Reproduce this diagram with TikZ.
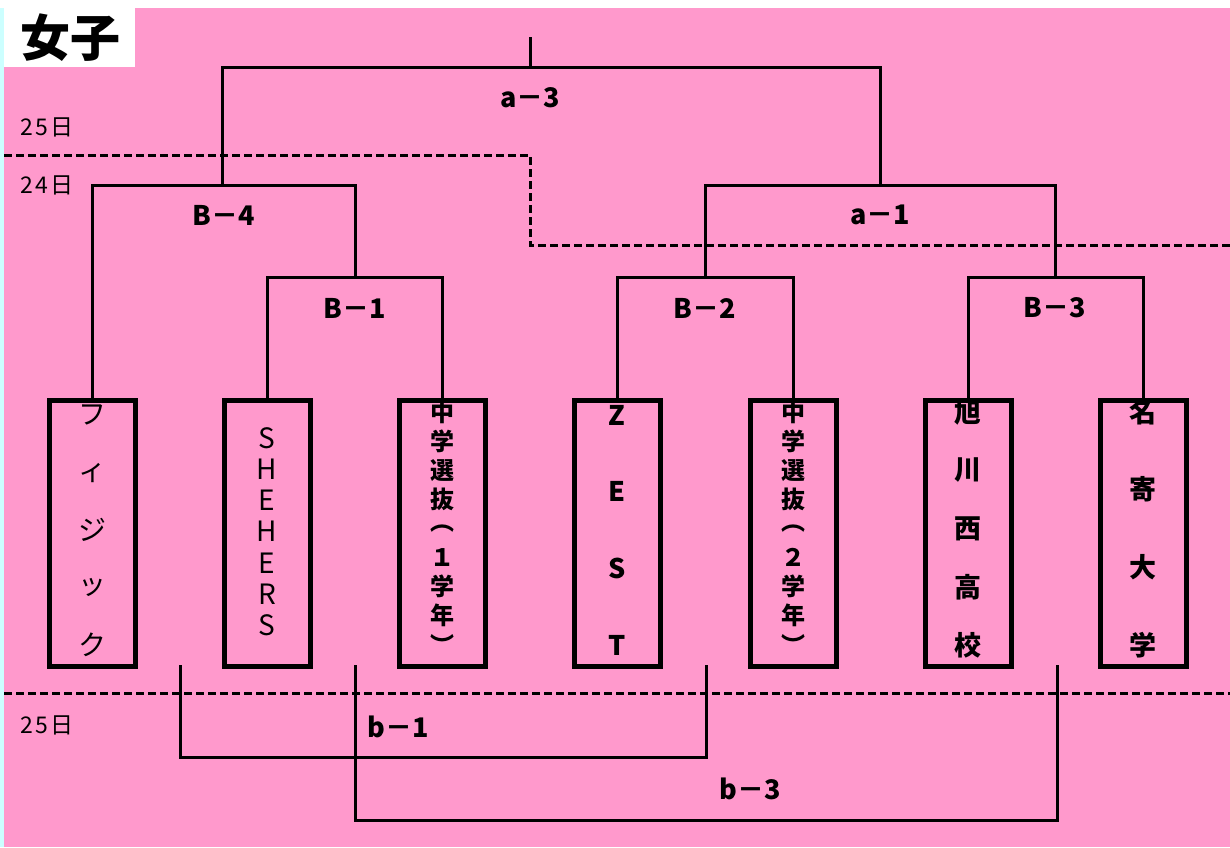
\documentclass[tikz,border=0pt]{standalone}
\usepackage{fontspec}
\setmainfont{Noto Sans CJK JP}
\usetikzlibrary{positioning}
\definecolor{bgpink}{HTML}{FF99CC}
\definecolor{edgecyan}{HTML}{CCFFFF}

\begin{document}
\begin{tikzpicture}[x=1pt, y=-1pt, line width=3pt,
        team box/.style={draw,line width=5pt,minimum width=86pt,minimum height=266pt,inner sep=0pt,anchor=north},
        match label/.style={font=\fontsize{27}{27}\selectfont\bfseries},
        day label/.style={font=\fontsize{23}{23}\selectfont,anchor=west},
        day line/.style={dash pattern=on 8pt off 4pt},
        team char/.style={font=\fontsize{27}{27}\selectfont\bfseries,inner sep=0pt},
        small char/.style={font=\fontsize{24}{24}\selectfont\bfseries,inner sep=0pt},
        light char/.style={font=\fontsize{28}{28}\selectfont,inner sep=0pt}]
    % background
    \useasboundingbox (0,0) rectangle (1230,847);
    \fill[edgecyan] (0,0) rectangle (1230,847);
    \fill[white] (0,0) rectangle (1230,8);
    \fill[bgpink] (4,8) rectangle (1230,847);
    \fill[white] (4,8) rectangle (135,67);
    \node[font=\fontsize{50}{50}\selectfont\bfseries] (title) at (70,38) {女子};

    % days
    \draw[day line] (4,155) -- (530,155) -- (530,245) -- (1230,245);
    \draw[day line] (4,693) -- (1230,693);
    \node[day label] (d1) at (16,127) {2\hspace{2pt}5\hspace{2pt}日};
    \node[day label] (d2) at (16,185) {2\hspace{2pt}4\hspace{2pt}日};
    \node[day label] (d3) at (16,725) {2\hspace{2pt}5\hspace{2pt}日};

    % teams
    \node[team box] (t1) at (92,398) {};
    \node[team box] (t2) at (267,398) {};
    \node[team box] (t3) at (442,398) {};
    \node[team box] (t4) at (617,398) {};
    \node[team box] (t5) at (793,398) {};
    \node[team box] (t6) at (968,398) {};
    \node[team box] (t7) at (1143,398) {};

    \foreach \c [count=\i] in {フ,ィ,ジ,ッ,ク}
        \node[light char] (t1-\i) at (92,{415+(\i-1)*57.5}) {\c};
    \foreach \c [count=\i] in {S,H,E,H,E,R,S}
        \node[light char] (t2-\i) at (267,{438+(\i-1)*31.2}) {\c};
    \foreach \c [count=\i] in {中,学,選,抜,︵,１,学,年,︶}
        \node[small char] (t3-\i) at (442,{412+(\i-1)*29.1}) {\c};
    \foreach \c [count=\i] in {Z,E,S,T}
        \node[team char] (t4-\i) at (617,{415+(\i-1)*76.7}) {\c};
    \foreach \c [count=\i] in {中,学,選,抜,︵,２,学,年,︶}
        \node[small char] (t5-\i) at (793,{412+(\i-1)*29.1}) {\c};
    \foreach \c [count=\i] in {旭,川,西,高,校}
        \node[team char] (t6-\i) at (968,{412+(\i-1)*58.25}) {\c};
    \foreach \c [count=\i] in {名,寄,大,学}
        \node[team char] (t7-\i) at (1143,{412+(\i-1)*77.7}) {\c};

    % bracket points
    \coordinate (B1) at (355,277);
    \coordinate (B2) at (705,277);
    \coordinate (B3) at (1055,277);
    \coordinate (B4) at (222,185);
    \coordinate (a1) at (880,185);
    \coordinate (a3) at (530,67);
    \coordinate (final) at (530,37);

    \draw (t2.north) |- (B1) -| (t3.north);
    \draw (t4.north) |- (B2) -| (t5.north);
    \draw (t6.north) |- (B3) -| (t7.north);
    \draw (t1.north) |- (B4) -| (B1);
    \draw (B2) |- (a1) -| (B3);
    \draw (B4) |- (a3) -| (a1);
    \draw (a3) -- (final);

    \node[match label] (lB1) at (355,308) {B－1};
    \node[match label] (lB2) at (705,308) {B－2};
    \node[match label] (lB3) at (1055,308) {B－3};
    \node[match label] (lB4) at (224,215) {B－4};
    \node[match label] (la1) at (880,215) {a－1};
    \node[match label] (la3) at (530,98) {a－3};

    % second day, lower side
    \coordinate (b1l) at (180,665);
    \coordinate (b1r) at (706,665);
    \coordinate (b1) at (443,757);
    \coordinate (b3l) at (355,665);
    \coordinate (b3r) at (1057,665);
    \coordinate (b3) at (706,820);

    \draw (b1l) |- (b1) -| (b1r);
    \draw (b3l) |- (b3) -| (b3r);

    \node[match label] (lb1) at (398,727) {b－1};
    \node[match label] (lb3) at (750,789) {b－3};
\end{tikzpicture}
\end{document}
